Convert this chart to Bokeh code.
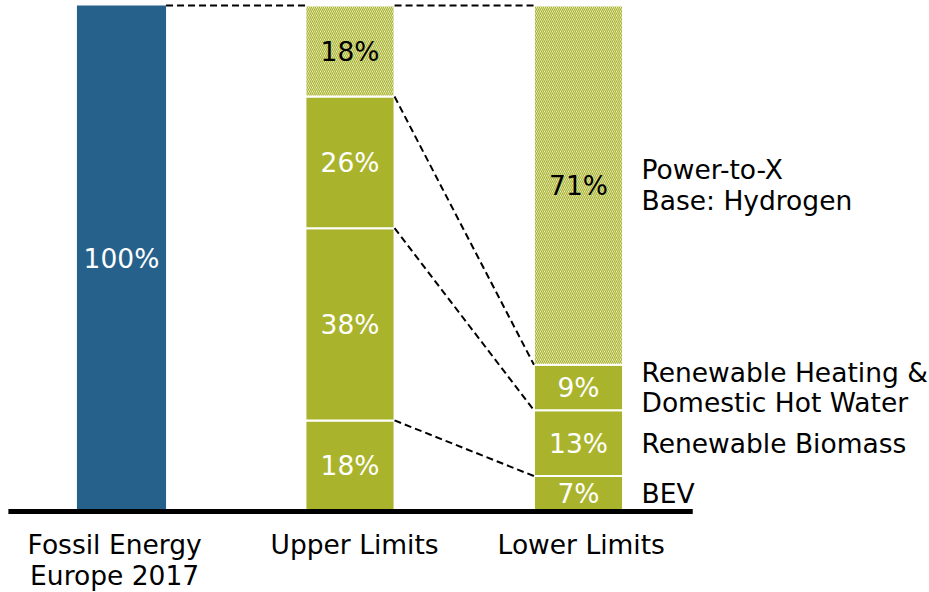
from bokeh.plotting import figure
from bokeh.models import Range1d
from bokeh.core.properties import value
from bokeh.embed import file_html
from bokeh.resources import INLINE
import numpy as np

# ---------------- data ----------------
categories = ["Fossil Energy\nEurope 2017", "Upper Limits", "Lower Limits"]
fossil = [100]
upper = [18, 38, 26, 18]   # BEV, Biomass, Heating/DHW, Power-to-X
lower = [7, 13, 9, 71]
segment_names = ["BEV", "Renewable Biomass",
                 "Renewable Heating &\nDomestic Hot Water",
                 "Power-to-X\nBase: Hydrogen"]
hatched_segment = 3  # index of Power-to-X segment (hatched)

# ---------------- style ----------------
BLUE = "#26618C"
OLIVE = "#A9B42C"
FONT = value("DejaVu Sans")
FS = "26.5px"
BAR_W = 0.39
LABEL_DX = 0.2757
CAT_DX = [-0.03, 0.02, 0.012]   # small label nudges relative to bar centres

p = figure(width=929, height=592, output_backend="svg", toolbar_location=None,
           x_range=Range1d(-0.5295, 3.5361), y_range=Range1d(-16.01, 100.99),
           min_border=0, outline_line_color=None)
p.axis.visible = False
p.grid.visible = False
p.background_fill_color = "white"
p.border_fill_color = "white"

xs = list(range(len(categories)))

# fossil bar
p.vbar(x=[xs[0]], bottom=[0], top=fossil, width=BAR_W, fill_color=BLUE, line_color=None)
p.text(x=[xs[0]], y=[fossil[0] / 2], text=[f"{fossil[0]}%"], text_color="white",
       text_font=FONT, text_font_size=FS, text_align="center", text_baseline="middle")

def stacked(xc, vals):
    tops = np.cumsum(vals)
    bottoms = tops - np.array(vals)
    for i, (b, t, v) in enumerate(zip(bottoms, tops, vals)):
        if i == hatched_segment:
            p.vbar(x=[xc], bottom=[b], top=[t], width=BAR_W, fill_color="white",
                   hatch_pattern="\\", hatch_color=OLIVE, hatch_scale=4, hatch_weight=1.3,
                   line_color="white", line_width=2)
            col = "black"
        else:
            p.vbar(x=[xc], bottom=[b], top=[t], width=BAR_W, fill_color=OLIVE,
                   line_color="white", line_width=2)
            col = "white"
        p.text(x=[xc], y=[(b + t) / 2], text=[f"{v}%"], text_color=col,
               text_font=FONT, text_font_size=FS, text_align="center", text_baseline="middle")
    return bottoms, tops

ub, ut = stacked(xs[1], upper)
lb, lt = stacked(xs[2], lower)

# dashed connectors
x0 = [xs[0] + BAR_W / 2, xs[1] + BAR_W / 2] + [xs[1] + BAR_W / 2] * 3
x1 = [xs[1] - BAR_W / 2, xs[2] - BAR_W / 2] + [xs[2] - BAR_W / 2] * 3
y0 = [fossil[0], ut[-1]] + list(ut[:3][::-1])
y1 = [ut[-1], lt[-1]] + list(lt[:3][::-1])
p.segment(x0=x0, y0=y0, x1=x1, y1=y1, line_color="black", line_width=2, line_dash="7 4")

# baseline
p.segment(x0=[xs[0] - 0.495], y0=[0], x1=[xs[-1] + 0.5], y1=[0], line_color="black", line_width=5)

# segment labels (right of last bar)
mids = (lb + lt) / 2
p.text(x=[xs[2] + LABEL_DX] * len(segment_names), y=list(mids), text=segment_names,
       text_color="black", text_font=FONT, text_font_size=FS, text_align="left",
       text_baseline="middle", text_line_height=0.98)

# category labels
p.text(x=[x + d for x, d in zip(xs, CAT_DX)], y=[-3.4] * len(xs), text=categories,
       text_color="black", text_font=FONT, text_font_size=FS, text_align="center",
       text_baseline="top", text_line_height=1.0)

open("out.html", "w").write(file_html(p, INLINE))
